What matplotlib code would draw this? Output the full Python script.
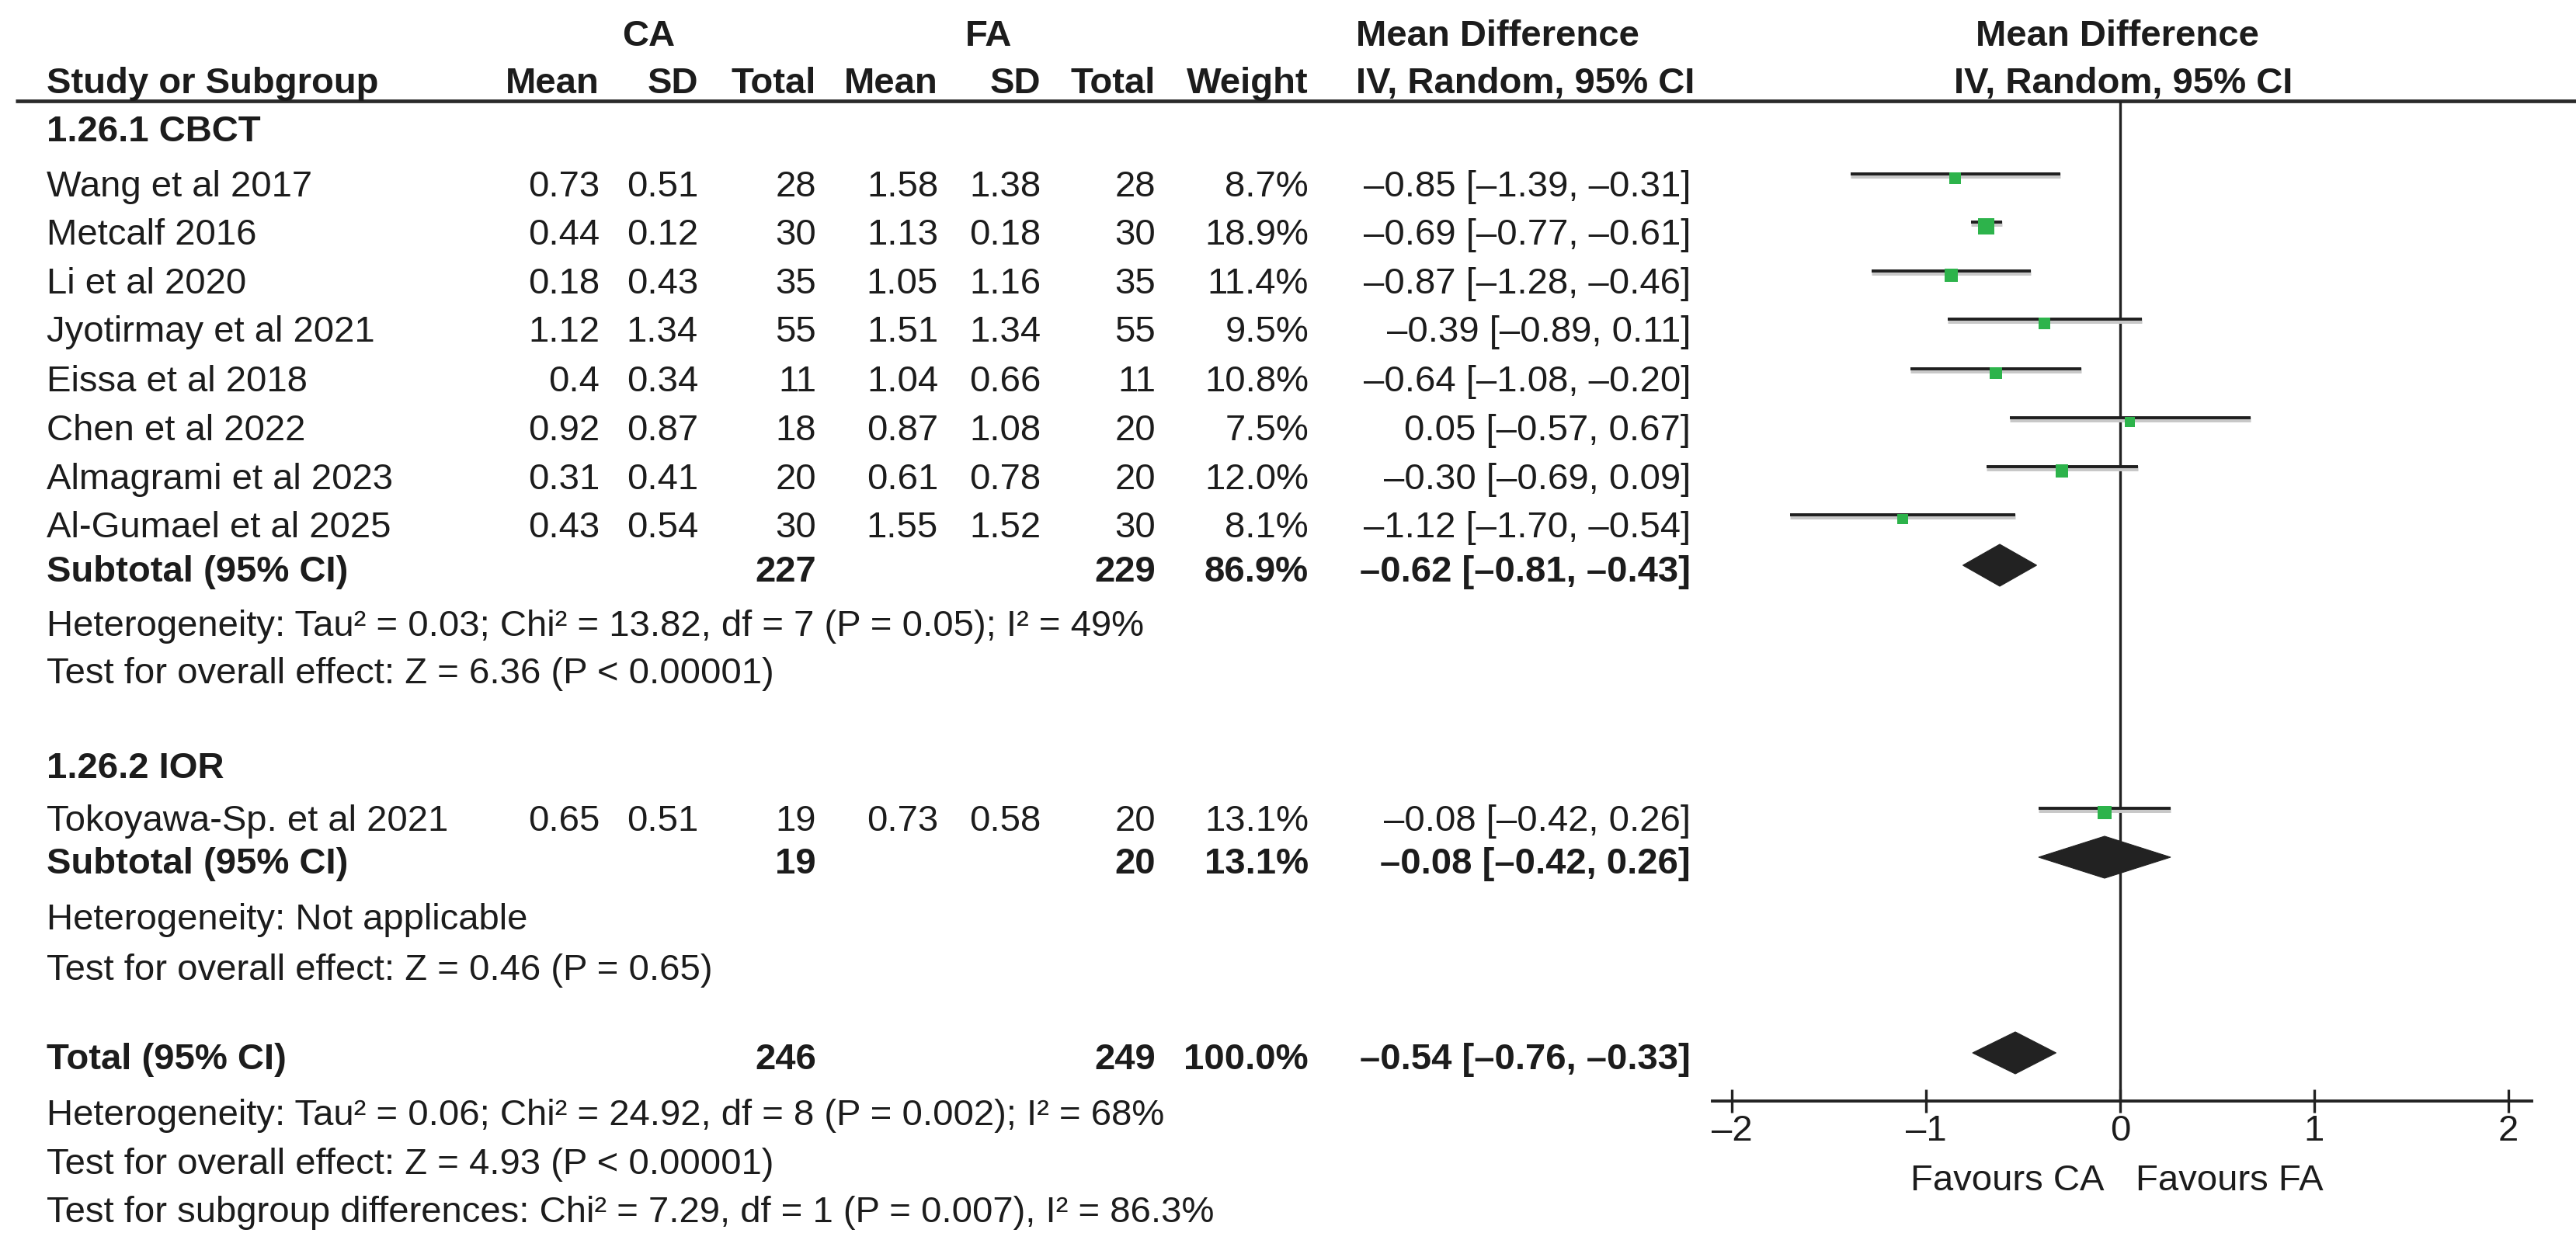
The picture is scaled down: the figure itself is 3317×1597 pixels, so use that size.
import matplotlib
matplotlib.use("Agg")
import matplotlib.pyplot as plt
import matplotlib.transforms as mtransforms
from matplotlib.patches import Polygon

plt.rcParams['font.family'] = ['Liberation Sans', 'DejaVu Sans']

W, H = 3317, 1597
DPI = 100

# ---------------- data ----------------
cbct_studies = ["Wang et al 2017", "Metcalf 2016", "Li et al 2020", "Jyotirmay et al 2021",
                "Eissa et al 2018", "Chen et al 2022", "Almagrami et al 2023", "Al-Gumael et al 2025"]
cbct_ca_mean = [0.73, 0.44, 0.18, 1.12, 0.4, 0.92, 0.31, 0.43]
cbct_ca_sd = [0.51, 0.12, 0.43, 1.34, 0.34, 0.87, 0.41, 0.54]
cbct_ca_n = [28, 30, 35, 55, 11, 18, 20, 30]
cbct_fa_mean = [1.58, 1.13, 1.05, 1.51, 1.04, 0.87, 0.61, 1.55]
cbct_fa_sd = [1.38, 0.18, 1.16, 1.34, 0.66, 1.08, 0.78, 1.52]
cbct_fa_n = [28, 30, 35, 55, 11, 20, 20, 30]
cbct_weight = [8.7, 18.9, 11.4, 9.5, 10.8, 7.5, 12.0, 8.1]
cbct_md = [-0.85, -0.69, -0.87, -0.39, -0.64, 0.05, -0.30, -1.12]
cbct_lo = [-1.39, -0.77, -1.28, -0.89, -1.08, -0.57, -0.69, -1.70]
cbct_hi = [-0.31, -0.61, -0.46, 0.11, -0.20, 0.67, 0.09, -0.54]

ior_studies = ["Tokoyawa-Sp. et al 2021"]
ior_ca_mean = [0.65]
ior_ca_sd = [0.51]
ior_ca_n = [19]
ior_fa_mean = [0.73]
ior_fa_sd = [0.58]
ior_fa_n = [20]
ior_weight = [13.1]
ior_md = [-0.08]
ior_lo = [-0.42]
ior_hi = [0.26]

group_titles = ["1.26.1 CBCT", "1.26.2 IOR"]
summary_labels = ["Subtotal (95% CI)", "Subtotal (95% CI)", "Total (95% CI)"]
summary_ca_n = [227, 19, 246]
summary_fa_n = [229, 20, 249]
summary_weight = [86.9, 13.1, 100.0]
summary_md = [-0.62, -0.08, -0.54]
summary_lo = [-0.81, -0.42, -0.76]
summary_hi = [-0.43, 0.26, -0.33]

stats_lines = [
    "Heterogeneity: Tau\u00b2 = 0.03; Chi\u00b2 = 13.82, df = 7 (P = 0.05); I\u00b2 = 49%",
    "Test for overall effect: Z = 6.36 (P < 0.00001)",
    "Heterogeneity: Not applicable",
    "Test for overall effect: Z = 0.46 (P = 0.65)",
    "Heterogeneity: Tau\u00b2 = 0.06; Chi\u00b2 = 24.92, df = 8 (P = 0.002); I\u00b2 = 68%",
    "Test for overall effect: Z = 4.93 (P < 0.00001)",
    "Test for subgroup differences: Chi\u00b2 = 7.29, df = 1 (P = 0.007), I\u00b2 = 86.3%",
]

axis_ticks = [-2, -1, 0, 1, 2]
favours_left = "Favours CA"
favours_right = "Favours FA"

# ---------------- layout (pixels) ----------------
TXT = '#1c1c1c'
INK = '#222222'
GREEN = '#2db34b'
FS = 34
CAP_HALF = 17

y_head1, y_head2, y_rule = 42, 103, 130
y_groups = [165, 985]
y_cbct = [236, 298, 361, 423, 487, 550, 613, 675]
y_ior = [1053]
y_summary = [732, 1108, 1360]
y_stats = [802, 863, 1180, 1245, 1432, 1495, 1557]
y_axis = 1418
y_favours = 1516

x_study = 60
x_ca_mean, x_ca_sd, x_ca_n = 772, 899, 1051
x_fa_mean, x_fa_sd, x_fa_n = 1208, 1340, 1488
x_weight = 1685
x_md_left, x_md_right = 1746, 2177
x_ca_head, x_fa_head = 835, 1273
x_plot_head1, x_plot_head2 = 2726, 2734

zero_px, ppu = 2730, 250.0
X0, X1 = -2.1, 2.12

fig = plt.figure(figsize=(W / DPI, H / DPI), dpi=DPI)
fig.patch.set_facecolor('white')
tab = fig.add_axes([0, 0, 1, 1])
tab.set_xlim(0, W)
tab.set_ylim(H, 0)
tab.axis('off')


def put(x, y, s, ha='left', bold=False):
    tab.text(x, y + CAP_HALF, s, ha=ha, va='baseline', fontsize=FS, color=TXT,
             fontweight='bold' if bold else 'normal')


def num(v):
    return f"{v:g}"


def dash(s):
    return s.replace('-', '\u2013')


def ci(md, lo, hi):
    return dash(f"{md:.2f} [{lo:.2f}, {hi:.2f}]")


# headers
put(x_ca_head, y_head1, "CA", 'center', True)
put(x_fa_head, y_head1, "FA", 'center', True)
put(x_md_left, y_head1, "Mean Difference", 'left', True)
put(x_study, y_head2, "Study or Subgroup", 'left', True)
put(x_ca_mean, y_head2, "Mean", 'right', True)
put(x_ca_sd, y_head2, "SD", 'right', True)
put(x_ca_n, y_head2, "Total", 'right', True)
put(x_fa_mean, y_head2, "Mean", 'right', True)
put(x_fa_sd, y_head2, "SD", 'right', True)
put(x_fa_n, y_head2, "Total", 'right', True)
put(x_weight, y_head2, "Weight", 'right', True)
put(x_md_left, y_head2, "IV, Random, 95% CI", 'left', True)
put(x_plot_head1, y_head1, "Mean Difference", 'center', True)
put(x_plot_head2, y_head2, "IV, Random, 95% CI", 'center', True)
tab.hlines(y_rule, 20, W, color='#2a2a2a', lw=3.4)

# group titles
for y, t in zip(y_groups, group_titles):
    put(x_study, y, t, 'left', True)


def study_rows(ys, names, cm, cs, cn, fm, fs, fn, w, md, lo, hi):
    for i, y in enumerate(ys):
        put(x_study, y, names[i])
        put(x_ca_mean, y, num(cm[i]), 'right')
        put(x_ca_sd, y, num(cs[i]), 'right')
        put(x_ca_n, y, str(cn[i]), 'right')
        put(x_fa_mean, y, num(fm[i]), 'right')
        put(x_fa_sd, y, num(fs[i]), 'right')
        put(x_fa_n, y, str(fn[i]), 'right')
        put(x_weight, y, f"{w[i]:.1f}%", 'right')
        put(x_md_right, y, ci(md[i], lo[i], hi[i]), 'right')


study_rows(y_cbct, cbct_studies, cbct_ca_mean, cbct_ca_sd, cbct_ca_n, cbct_fa_mean,
           cbct_fa_sd, cbct_fa_n, cbct_weight, cbct_md, cbct_lo, cbct_hi)
study_rows(y_ior, ior_studies, ior_ca_mean, ior_ca_sd, ior_ca_n, ior_fa_mean,
           ior_fa_sd, ior_fa_n, ior_weight, ior_md, ior_lo, ior_hi)

for i, y in enumerate(y_summary):
    put(x_study, y, summary_labels[i], 'left', True)
    put(x_ca_n, y, str(summary_ca_n[i]), 'right', True)
    put(x_fa_n, y, str(summary_fa_n[i]), 'right', True)
    put(x_weight, y, f"{summary_weight[i]:.1f}%", 'right', True)
    put(x_md_right, y, ci(summary_md[i], summary_lo[i], summary_hi[i]), 'right', True)

for y, s in zip(y_stats, stats_lines):
    put(x_study, y, s)

# ---------------- forest axes ----------------
left_px = zero_px + X0 * ppu
right_px = zero_px + X1 * ppu
fa = fig.add_axes([left_px / W, 1 - y_axis / H, (right_px - left_px) / W, (y_axis - y_rule) / H])
fa.set_xlim(X0, X1)
fa.set_ylim(y_axis, y_rule)
fa.patch.set_visible(False)
for sp in ['top', 'left', 'right']:
    fa.spines[sp].set_visible(False)
fa.spines['bottom'].set_linewidth(2.8)
fa.spines['bottom'].set_color(INK)
fa.set_yticks([])
fa.set_xticks(axis_ticks, labels=[dash(f"{t:d}") for t in axis_ticks])
fa.tick_params(axis='x', direction='inout', length=21, width=2.4, color=INK,
               labelsize=FS, labelcolor=TXT, pad=2)

fa.axvline(0, color=INK, lw=2.4, zorder=1)


def shifted(px_up):
    return fa.transData + mtransforms.ScaledTranslation(0, px_up / DPI, fig.dpi_scale_trans)


all_y = y_cbct + y_ior
all_md = cbct_md + ior_md
all_lo = cbct_lo + ior_lo
all_hi = cbct_hi + ior_hi
all_w = cbct_weight + ior_weight
# faint halo under the CI lines, then the lines, then the weighted squares
fa.hlines(all_y, all_lo, all_hi, color='#c8c8c8', lw=5.0, transform=shifted(10), zorder=2,
          clip_on=False)
fa.hlines(all_y, all_lo, all_hi, color='#1f1f1f', lw=2.8, transform=shifted(12), zorder=2,
          clip_on=False)
fa.scatter(all_md, all_y, s=[11.9 * w for w in all_w], marker='s', color=GREEN,
           linewidths=0, transform=shifted(6.5), zorder=3, clip_on=False)

for y, m, lo, hi in zip(y_summary, summary_md, summary_lo, summary_hi):
    fa.add_patch(Polygon([(lo, y), (m, y - 27), (hi, y), (m, y + 27)], closed=True,
                         facecolor=INK, edgecolor=INK, lw=0.8, zorder=3,
                         transform=shifted(4), clip_on=False))

fa.text(-0.08, y_favours + CAP_HALF, favours_left, ha='right', va='baseline', fontsize=FS,
        color=TXT, transform=fa.transData, clip_on=False)
fa.text(0.08, y_favours + CAP_HALF, favours_right, ha='left', va='baseline', fontsize=FS,
        color=TXT, transform=fa.transData, clip_on=False)

fig.savefig('out.png', dpi=DPI, facecolor='white')
